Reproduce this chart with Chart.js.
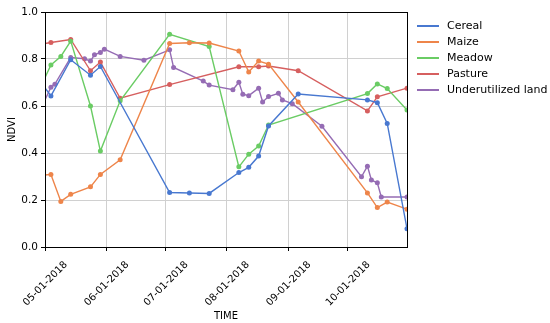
<!DOCTYPE html>
<html>
<head>
<meta charset="utf-8">
<script src="https://cdn.jsdelivr.net/npm/chart.js@4.4.0/dist/chart.umd.min.js"></script>
<style>
  body { margin: 0; background: #fff; }
  #wrap { width: 550px; height: 323px; }
</style>
</head>
<body>
<div id="wrap"><canvas id="myChart" width="550" height="323"></canvas></div>
<script>
// series names and colours
const seriesNames = ['Cereal', 'Maize', 'Meadow', 'Pasture', 'Underutilized land'];
const seriesColors = ['#4878d0', '#ee854a', '#6acc64', '#d65f5f', '#956cb4'];

const cerealDates = ['2018-04-29','2018-05-04','2018-05-14','2018-05-24','2018-05-29','2018-07-03','2018-07-13','2018-07-23','2018-08-07','2018-08-12','2018-08-17','2018-08-22','2018-09-06','2018-10-11','2018-10-16','2018-10-21','2018-10-31'];
const cerealValues = [0.70,0.643,0.797,0.731,0.768,0.232,0.230,0.228,0.317,0.339,0.387,0.515,0.651,0.626,0.614,0.526,0.078];

const maizeDates = ['2018-04-29','2018-05-04','2018-05-09','2018-05-14','2018-05-24','2018-05-29','2018-06-08','2018-07-03','2018-07-13','2018-07-23','2018-08-07','2018-08-12','2018-08-17','2018-08-22','2018-09-06','2018-10-11','2018-10-16','2018-10-21','2018-10-31'];
const maizeValues = [0.305,0.309,0.194,0.224,0.256,0.309,0.371,0.866,0.869,0.868,0.834,0.745,0.791,0.778,0.617,0.230,0.168,0.191,0.161];

const meadowDates = ['2018-04-29','2018-05-04','2018-05-09','2018-05-14','2018-05-24','2018-05-29','2018-06-08','2018-07-03','2018-07-23','2018-08-07','2018-08-12','2018-08-17','2018-08-22','2018-10-11','2018-10-16','2018-10-21','2018-10-31'];
const meadowValues = [0.685,0.775,0.811,0.876,0.600,0.408,0.622,0.905,0.853,0.341,0.395,0.430,0.519,0.653,0.694,0.674,0.583];

const pastureDates = ['2018-04-29','2018-05-04','2018-05-14','2018-05-24','2018-05-29','2018-06-08','2018-07-03','2018-08-07','2018-08-17','2018-08-22','2018-09-06','2018-10-11','2018-10-16','2018-10-31'];
const pastureValues = [0.863,0.870,0.883,0.750,0.787,0.633,0.691,0.767,0.767,0.770,0.750,0.579,0.639,0.676];

const landDates = ['2018-04-29','2018-05-04','2018-05-06','2018-05-14','2018-05-21','2018-05-24','2018-05-26','2018-05-29','2018-05-31','2018-06-08','2018-06-20','2018-07-03','2018-07-05','2018-07-20','2018-07-23','2018-08-04','2018-08-07','2018-08-09','2018-08-12','2018-08-17','2018-08-19','2018-08-22','2018-08-27','2018-08-29','2018-09-03','2018-09-18','2018-10-08','2018-10-11','2018-10-13','2018-10-16','2018-10-18','2018-10-31'];
const landValues = [0.59,0.680,0.693,0.806,0.801,0.791,0.818,0.828,0.842,0.811,0.795,0.839,0.764,0.706,0.689,0.669,0.701,0.650,0.644,0.676,0.617,0.640,0.654,0.626,0.610,0.514,0.299,0.344,0.285,0.273,0.213,0.213];

// x tick labels (month starts)
const xTickDates = ['2018-05-01','2018-06-01','2018-07-01','2018-08-01','2018-09-01','2018-10-01'];
const xTickLabels = ['05-01-2018','06-01-2018','07-01-2018','08-01-2018','09-01-2018','10-01-2018'];
const yTicks = [0, 0.2, 0.4, 0.6, 0.8, 1.0];

const allDates = [cerealDates, maizeDates, meadowDates, pastureDates, landDates];
const allValues = [cerealValues, maizeValues, meadowValues, pastureValues, landValues];

const toMs = s => {
  const p = s.split('-').map(Number);
  return Date.UTC(p[0], p[1] - 1, p[2]);
};

const datasets = seriesNames.map((name, i) => ({
  label: name,
  data: allDates[i].map((d, j) => ({ x: toMs(d), y: allValues[i][j] })),
  borderColor: seriesColors[i],
  backgroundColor: seriesColors[i],
  borderWidth: 1.4,
  pointRadius: 2.5,
  pointBorderWidth: 0,
  tension: 0,
  clip: 0
}));

const FONT = "'DejaVu Sans', sans-serif";

const framePlugin = {
  id: 'frame',
  afterDraw(chart) {
    const { ctx, chartArea: a } = chart;
    ctx.save();
    ctx.strokeStyle = '#000';
    ctx.lineWidth = 1;
    ctx.strokeRect(Math.round(a.left) + 0.5, Math.round(a.top) + 0.5,
      Math.round(a.right - a.left), Math.round(a.bottom - a.top));
    // legend on the right
    ctx.font = '11px ' + FONT;
    ctx.textBaseline = 'middle';
    ctx.textAlign = 'left';
    seriesNames.forEach((name, i) => {
      const y = 26 + i * 16;
      ctx.strokeStyle = seriesColors[i];
      ctx.lineWidth = 2;
      ctx.beginPath();
      ctx.moveTo(417, y);
      ctx.lineTo(439, y);
      ctx.stroke();
      ctx.fillStyle = '#000';
      ctx.fillText(name, 447, y);
    });
    ctx.restore();
  }
};

new Chart(document.getElementById('myChart').getContext('2d'), {
  type: 'line',
  data: { datasets: datasets },
  options: {
    responsive: false,
    animation: false,
    layout: { padding: { top: 12, right: 143, left: 0, bottom: 0 } },
    plugins: { legend: { display: false }, tooltip: { enabled: false } },
    scales: {
      x: {
        type: 'linear',
        min: toMs('2018-05-01'),
        max: toMs('2018-10-31'),
        afterFit: s => { s.height = 76; s.paddingLeft = 0; s.paddingRight = 0; },
        afterBuildTicks: s => { s.ticks = xTickDates.map(d => ({ value: toMs(d) })); },
        ticks: {
          minRotation: 45,
          maxRotation: 45,
          autoSkip: false,
          padding: 8,
          labelOffset: 21,
          color: '#000',
          font: { family: FONT, size: 10 },
          callback: v => xTickLabels[xTickDates.findIndex(d => toMs(d) === v)]
        },
        grid: { color: '#d0d0d0', tickColor: '#000', tickLength: 4 },
        border: { color: '#000' },
        title: { display: true, text: 'TIME', color: '#000', padding: { top: 4, bottom: 1 }, font: { family: FONT, size: 10 } }
      },
      y: {
        min: 0,
        max: 1,
        afterFit: s => { s.width = 45; },
        afterBuildTicks: s => { s.ticks = yTicks.map(v => ({ value: v })); },
        ticks: {
          color: '#000',
          font: { family: FONT, size: 10.5 },
          callback: v => v.toFixed(1)
        },
        grid: { color: '#d0d0d0', tickColor: '#000', tickLength: 4 },
        border: { color: '#000' },
        title: { display: true, text: 'NDVI', color: '#000', padding: { top: 6, bottom: 4 }, font: { family: FONT, size: 10 } }
      }
    }
  },
  plugins: [framePlugin]
});
</script>
</body>
</html>
